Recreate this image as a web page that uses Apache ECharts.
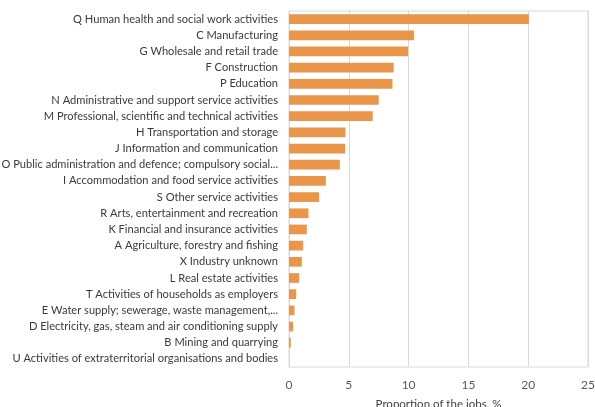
<!DOCTYPE html>
<html>
<head>
<meta charset="utf-8">
<script src="https://cdn.jsdelivr.net/npm/echarts@6/dist/echarts.min.js"></script>
<style>
  html, body { margin: 0; padding: 0; background: #fff; }
  #chart { width: 595px; height: 407px; }
</style>
</head>
<body>
<div id="chart"></div>
<script>
  // sectors, top to bottom
  var sectors = [
    'Q Human health and social work activities',
    'C Manufacturing',
    'G Wholesale and retail trade',
    'F Construction',
    'P Education',
    'N Administrative and support service activities',
    'M Professional, scientific and technical activities',
    'H Transportation and storage',
    'J Information and communication',
    'O Public administration and defence; compulsory social...',
    'I Accommodation and food service activities',
    'S Other service activities',
    'R Arts, entertainment and recreation',
    'K Financial and insurance activities',
    'A Agriculture, forestry and fishing',
    'X Industry unknown',
    'L Real estate activities',
    'T Activities of households as employers',
    'E Water supply; sewerage, waste management,...',
    'D Electricity, gas, steam and air conditioning supply',
    'B Mining and quarrying',
    'U Activities of extraterritorial organisations and bodies'
  ]
  // share of jobs, %
  var shares = [20.05, 10.45, 9.95, 8.75, 8.65, 7.5, 7.0, 4.72, 4.7, 4.25, 3.08, 2.52,
    1.63, 1.49, 1.19, 1.07, 0.85, 0.6, 0.46, 0.35, 0.15, 0]
  var xTicks = [0, 5, 10, 15, 20, 25]

  var font = 'Lato'
  var myChart = echarts.init(document.getElementById('chart'))
  var option = {
    animation: false,
    textStyle: { fontFamily: font },
    grid: {
      left: 289,
      right: 7,
      top: 11,
      bottom: 40,
      outerBoundsMode: 'none',
      show: true,
      borderColor: '#d9d9d9',
      borderWidth: 1
    },
    xAxis: {
      type: 'value',
      min: xTicks[0],
      max: xTicks[xTicks.length - 1],
      interval: xTicks[1] - xTicks[0],
      name: 'Proportion of the jobs, %',
      nameLocation: 'middle',
      nameGap: 31,
      nameTextStyle: { color: '#404040', fontSize: 11.5, fontFamily: font },
      axisLine: { show: false },
      axisTick: { show: false },
      axisLabel: { color: '#595959', fontSize: 12, margin: 12 },
      splitLine: { lineStyle: { color: '#d9d9d9', width: 1 } }
    },
    yAxis: {
      type: 'category',
      inverse: true,
      data: sectors,
      axisLine: { lineStyle: { color: '#d9d9d9' } },
      axisTick: { show: false },
      axisLabel: { color: '#3a3a3a', fontSize: 11.1, margin: 11, interval: 0 }
    },
    series: [{
      type: 'bar',
      data: shares,
      barCategoryGap: '40%',
      itemStyle: { color: '#e9964a' }
    }]
  }
  myChart.setOption(option)
</script>
</body>
</html>
